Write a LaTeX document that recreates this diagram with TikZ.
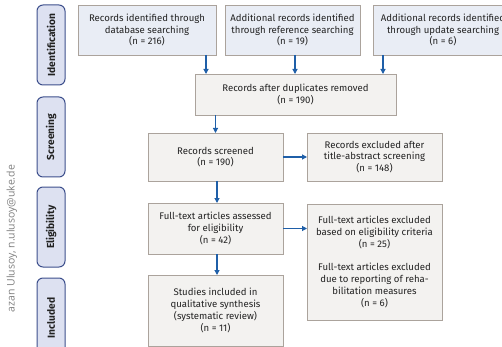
\documentclass[tikz,border=0pt]{standalone}
\usepackage{fontspec}
\setmainfont{Fira Sans}
\newfontfamily\wmfont{Open Sans}
\usetikzlibrary{arrows.meta}
\definecolor{lblfill}{HTML}{DDE1F1}
\definecolor{lbldraw}{HTML}{3D4F8C}
\definecolor{topfill}{HTML}{E9EDF5}
\definecolor{boxfill}{HTML}{F3F2F0}
\definecolor{boxdraw}{HTML}{ABA39C}
\definecolor{arrcol}{HTML}{1F5FA8}
\definecolor{txtcol}{HTML}{222222}
\begin{document}
\begin{tikzpicture}[x=1pt,y=-1pt,
  every node/.style={inner sep=0pt,outer sep=0pt,text=txtcol},
  box/.style={draw=boxdraw,line width=0.9pt,fill=boxfill,align=center,
    font=\fontsize{9.6}{11.8}\selectfont},
  topbox/.style={box,fill=topfill},
  phase/.style={draw=lbldraw,line width=1pt,fill=lblfill,rounded corners=6pt,
    minimum width=28pt,minimum height=80pt,
    font=\fontsize{10.2}{12}\selectfont\bfseries},
  arr/.style={draw=arrcol,line width=1.1pt,-{Triangle[length=5pt,width=5pt]}}
]
\useasboundingbox (0,0) rectangle (502,347);
% watermark
\node[rotate=90,anchor=east,text=black!50,font=\wmfont\fontsize{10.5}{12}\selectfont] (wm) at (12,165) {azan Ulusoy, n.ulusoy@uke.de};
% phase labels
\node[phase] (pid) at (51,45) {\rotatebox{90}{Identification}};
\node[phase] (psc) at (51,137) {\rotatebox{90}{Screening}};
\node[phase] (pel) at (51,227) {\rotatebox{90}{Eligibility}};
\node[phase] (pin) at (51,318) {\rotatebox{90}{Included}};
% top boxes
\node[topbox,minimum width=138pt,minimum height=50pt] (b1) at (147,30)
  {Records identified through\\database searching\\(n = 216)};
\node[topbox,minimum width=135pt,minimum height=50pt] (b2) at (292.5,30)
  {Additional records identified\\through reference searching\\(n = 19)};
\node[topbox,minimum width=140pt,minimum height=50pt] (b3) at (443,30)
  {Additional records identified\\through update searching\\(n = 6)};
% duplicates
\node[box,minimum width=201pt,minimum height=41pt] (dup) at (295.5,94.5)
  {Records after duplicates removed\\(n = 190)};
% screening
\node[box,minimum width=135pt,minimum height=48pt] (scr) at (215.5,157)
  {Records screened\\(n = 190)};
\node[box,minimum width=135pt,minimum height=48pt] (exc) at (374.5,157)
  {Records excluded after\\title-abstract screening\\(n = 148)};
% eligibility
\node[box,minimum width=135pt,minimum height=51pt] (ass) at (215.5,228.5)
  {Full-text articles assessed\\for eligibility\\(n = 42)};
\node[box,minimum width=135pt,minimum height=116pt] (fex) at (374.5,262)
  {Full-text articles excluded\\based on eligibility criteria\\(n = 25)\\[11.8pt]Full-text articles excluded\\due to reporting of reha-\\bilitation measures\\(n = 6)};
% included
\node[box,minimum width=135pt,minimum height=71pt] (inc) at (215.5,310.5)
  {Studies included in\\qualitative synthesis\\(systematic review)\\(n = 11)};
% arrow columns
\coordinate (c1) at (206,0);
\coordinate (c2) at (295,0);
\coordinate (c3) at (383,0);
\coordinate (c4) at (215.5,0);
\coordinate (c5) at (217,0);
\draw[arr] (b1.south -| c1) -- (dup.north -| c1);
\draw[arr] (b2.south -| c2) -- (dup.north -| c2);
\draw[arr] (b3.south -| c3) -- (dup.north -| c3);
\draw[arr] (dup.south -| c4) -- (scr.north -| c4);
\draw[arr] (scr.south -| c5) -- (ass.north -| c5);
\draw[arr] (ass.south -| c5) -- (inc.north -| c5);
\draw[arr] (scr.east) -- (exc.west);
\draw[arr] (ass.east) -- (ass.east -| fex.west);
\end{tikzpicture}
\end{document}
